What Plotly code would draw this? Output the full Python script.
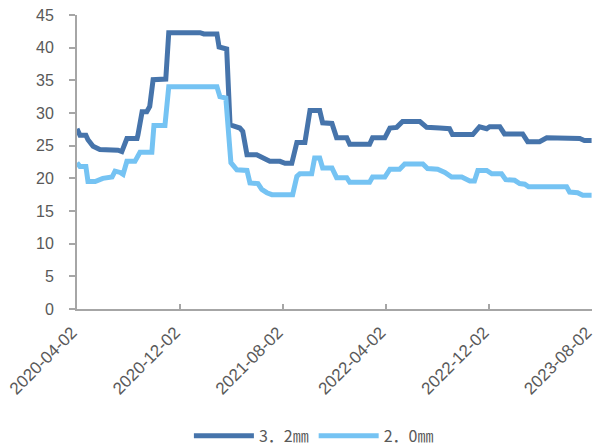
import plotly.graph_objects as go

dates_32 = ["2020-04-02", "2020-04-09", "2020-04-23", "2020-04-28", "2020-05-10", "2020-05-26",
            "2020-07-08", "2020-07-17", "2020-07-29", "2020-08-22", "2020-08-24", "2020-09-03",
            "2020-09-14", "2020-09-21", "2020-09-29", "2020-10-29", "2020-11-05", "2021-01-18",
            "2021-01-27", "2021-02-27", "2021-03-04", "2021-03-22", "2021-03-30", "2021-04-06",
            "2021-04-22", "2021-04-29", "2021-05-09", "2021-06-01", "2021-06-13", "2021-07-02",
            "2021-07-26", "2021-08-07", "2021-08-23", "2021-09-04", "2021-09-23", "2021-10-05",
            "2021-10-28", "2021-11-04", "2021-11-26", "2021-12-07", "2021-12-31", "2022-01-07",
            "2022-02-23", "2022-03-02", "2022-03-31", "2022-04-12", "2022-04-28", "2022-05-12",
            "2022-06-22", "2022-07-08", "2022-08-08", "2022-08-31", "2022-09-07", "2022-10-25",
            "2022-11-10", "2022-11-27", "2022-12-04", "2022-12-28", "2023-01-08", "2023-02-20",
            "2023-03-04", "2023-04-01", "2023-04-18", "2023-06-11", "2023-07-05", "2023-07-16",
            "2023-08-02"]
vals_32 = [27.6, 26.6, 26.6, 25.9, 24.9, 24.4,
           24.3, 24.1, 26.1, 26.1, 26.6, 30.2,
           30.2, 31.0, 35.1, 35.2, 42.3, 42.3,
           42.1, 42.1, 40.1, 39.8, 28.2, 28.1,
           27.7, 27.2, 23.6, 23.6, 23.2, 22.6,
           22.6, 22.3, 22.3, 25.5, 25.5, 30.4,
           30.4, 28.5, 28.4, 26.2, 26.2, 25.2,
           25.2, 26.2, 26.2, 27.7, 27.8, 28.7,
           28.7, 27.8, 27.7, 27.6, 26.7, 26.7,
           27.9, 27.6, 27.9, 27.9, 26.8, 26.8,
           25.6, 25.6, 26.2, 26.2, 26.1, 25.8,
           25.8]

dates_20 = ["2020-04-02", "2020-04-09", "2020-04-23", "2020-04-28", "2020-05-15", "2020-06-02",
            "2020-06-24", "2020-07-01", "2020-07-13", "2020-07-20", "2020-07-29", "2020-08-17",
            "2020-08-29", "2020-09-26", "2020-10-01", "2020-10-27", "2020-11-05", "2021-02-27",
            "2021-03-06", "2021-03-20", "2021-04-01", "2021-04-06", "2021-04-15", "2021-05-09",
            "2021-05-16", "2021-06-04", "2021-06-13", "2021-06-25", "2021-07-07", "2021-08-25",
            "2021-09-04", "2021-09-11", "2021-10-09", "2021-10-16", "2021-10-28", "2021-11-04",
            "2021-11-26", "2021-12-07", "2021-12-31", "2022-01-07", "2022-02-23", "2022-03-02",
            "2022-03-31", "2022-04-12", "2022-05-05", "2022-05-17", "2022-06-29", "2022-07-10",
            "2022-08-03", "2022-08-20", "2022-09-05", "2022-09-29", "2022-10-18", "2022-10-29",
            "2022-11-06", "2022-11-27", "2022-12-09", "2023-01-01", "2023-01-11", "2023-02-01",
            "2023-02-13", "2023-02-25", "2023-03-06", "2023-06-04", "2023-06-11", "2023-06-30",
            "2023-07-12", "2023-08-02"]
vals_20 = [22.4, 21.8, 21.8, 19.5, 19.5, 20.0,
           20.2, 21.1, 20.9, 20.6, 22.6, 22.6,
           24.0, 24.0, 28.1, 28.1, 34.0, 34.0,
           32.5, 32.3, 22.4, 22.1, 21.3, 21.2,
           19.3, 19.2, 18.3, 17.8, 17.5, 17.5,
           20.3, 20.7, 20.7, 23.1, 23.1, 21.6,
           21.6, 20.1, 20.1, 19.4, 19.4, 20.2,
           20.2, 21.4, 21.4, 22.2, 22.2, 21.5,
           21.4, 20.9, 20.2, 20.2, 19.6, 19.6,
           21.2, 21.2, 20.7, 20.7, 19.8, 19.7,
           19.2, 19.1, 18.7, 18.7, 17.9, 17.8,
           17.4, 17.4]

x_ticks = ["2020-04-02", "2020-12-02", "2021-08-02", "2022-04-02", "2022-12-02", "2023-08-02"]
series_names = ["3．2㎜", "2．0㎜"]

fig = go.Figure()
fig.add_trace(go.Scatter(x=dates_32, y=vals_32, mode="lines", name=series_names[0],
                         line=dict(color="#4674AB", width=5)))
fig.add_trace(go.Scatter(x=dates_20, y=vals_20, mode="lines", name=series_names[1],
                         line=dict(color="#75C3F3", width=5)))

axis_color = "#A6A6A6"
fig.update_layout(
    width=597, height=448,
    margin=dict(l=77, r=5, t=15, b=139, autoexpand=False),
    plot_bgcolor="white", paper_bgcolor="white",
    font=dict(family="Liberation Sans, Arial", color="#595959", size=15),
    showlegend=True,
    legend=dict(orientation="h", x=0.46, xanchor="center",
                yref="container", y=0.027, yanchor="middle",
                font=dict(family="Noto Sans CJK SC", size=16, color="#595959"),
                itemwidth=60, traceorder="normal"),
    xaxis=dict(
        type="date",
        range=["2020-04-02", "2023-08-03"],
        tickmode="array", tickvals=x_ticks, ticktext=x_ticks,
        tickangle=-45,
        showgrid=False, zeroline=False,
        showline=True, linecolor=axis_color, linewidth=2,
        ticks="inside", ticklen=5, tickcolor=axis_color, tickwidth=2,
        ticklabelstandoff=5, ticklabelshift=-5, ticklabeloverflow="allow",
        tickfont=dict(family="Liberation Sans", size=17, color="#595959"),
    ),
    yaxis=dict(
        range=[0, 45], dtick=5, tick0=0,
        showgrid=False, zeroline=False,
        showline=True, linecolor=axis_color, linewidth=2,
        ticks="outside", ticklen=6, tickcolor=axis_color, tickwidth=2,
        ticklabelstandoff=12,
        tickfont=dict(family="Liberation Sans", size=16, color="#595959"),
    ),
)

fig.write_html("out.html")
